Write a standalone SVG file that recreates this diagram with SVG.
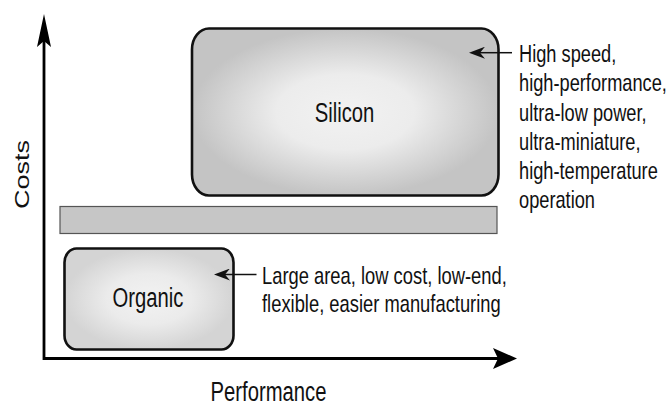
<svg xmlns="http://www.w3.org/2000/svg" width="668" height="406" viewBox="0 0 668 406">
  <style>
    text { font-family: "Liberation Sans", Arial, Helvetica, sans-serif; fill: #111; }
    .lbl { font-size: 27px; }
    .note { font-size: 24px; }
    .box { stroke: #111; stroke-width: 2.6; }
    .axis { fill: none; stroke: #000; stroke-width: 2.8; stroke-linejoin: miter; }
    .lead { fill: none; stroke: #111; stroke-width: 1.5; }
  </style>
  <defs>
    <radialGradient id="fillSi" cx="50%" cy="50%" r="50%">
      <stop offset="0" stop-color="#f2f2f2"/>
      <stop offset="0.45" stop-color="#ececec"/>
      <stop offset="1" stop-color="#c4c4c4"/>
    </radialGradient>
    <radialGradient id="fillOrg" cx="50%" cy="50%" r="50%">
      <stop offset="0" stop-color="#f2f2f2"/>
      <stop offset="0.5" stop-color="#ebebeb"/>
      <stop offset="1" stop-color="#d4d4d4"/>
    </radialGradient>
    <marker id="headY" markerUnits="userSpaceOnUse" markerWidth="34" markerHeight="14" viewBox="0 0 34 14" refX="6" refY="7" orient="auto-start-reverse">
      <path d="M0,0 L33,7 L0,14 L6,7 Z" fill="#000"/>
    </marker>
    <marker id="headX" markerUnits="userSpaceOnUse" markerWidth="25" markerHeight="21" viewBox="0 0 25 21" refX="5" refY="10.5" orient="auto">
      <path d="M0,0 L24,10.5 L0,21 L5,10.5 Z" fill="#000"/>
    </marker>
    <marker id="headNote" markerUnits="userSpaceOnUse" markerWidth="17" markerHeight="12" viewBox="0 0 17 12" refX="5" refY="6" orient="auto">
      <path d="M0,0 L16,6 L0,12 L5,6 Z" fill="#111"/>
    </marker>
  </defs>

  <!-- base band between the two regions -->
  <g id="band">
    <rect x="60" y="206.5" width="437" height="27" fill="#c6c6c6" stroke="#555" stroke-width="1.2"/>
  </g>

  <g id="silicon">
    <rect class="box" x="192" y="28.5" width="306.5" height="167" rx="17" ry="21" fill="url(#fillSi)"/>
    <text class="lbl" text-anchor="middle" transform="translate(344.5,121.5) scale(0.75,1)">Silicon</text>
  </g>

  <g id="organic">
    <rect class="box" x="64.5" y="248.5" width="169" height="101" rx="12" ry="14" fill="url(#fillOrg)"/>
    <text class="lbl" text-anchor="middle" transform="translate(148,306.5) scale(0.75,1)">Organic</text>
  </g>

  <g id="silicon-note">
    <text class="note" transform="translate(519,62) scale(0.76,1)">High speed,</text>
    <text class="note" transform="translate(519,91.3) scale(0.76,1)">high-performance,</text>
    <text class="note" transform="translate(519,120.6) scale(0.76,1)">ultra-low power,</text>
    <text class="note" transform="translate(519,150) scale(0.76,1)">ultra-miniature,</text>
    <text class="note" transform="translate(519,179) scale(0.76,1)">high-temperature</text>
    <text class="note" transform="translate(519,208) scale(0.76,1)">operation</text>
  </g>

  <g id="organic-note">
    <text class="note" transform="translate(262,284) scale(0.765,1)">Large area, low cost, low-end,</text>
    <text class="note" transform="translate(262,311.5) scale(0.765,1)">flexible, easier manufacturing</text>
  </g>

  <g id="axis-labels">
    <text class="lbl" text-anchor="middle" transform="translate(268.5,401) scale(0.75,1)">Performance</text>
    <text class="lbl" text-anchor="middle" transform="translate(28.5,174.5) scale(0.75,1) rotate(-90)">Costs</text>
  </g>

  <g id="connectors">
    <path class="axis" d="M44,41 V358.5 H498" marker-start="url(#headY)" marker-end="url(#headX)"/>
    <line class="lead" x1="512" y1="52.7" x2="480" y2="52.7" marker-end="url(#headNote)"/>
    <line class="lead" x1="256.5" y1="274.5" x2="225" y2="274.5" marker-end="url(#headNote)"/>
  </g>
</svg>
